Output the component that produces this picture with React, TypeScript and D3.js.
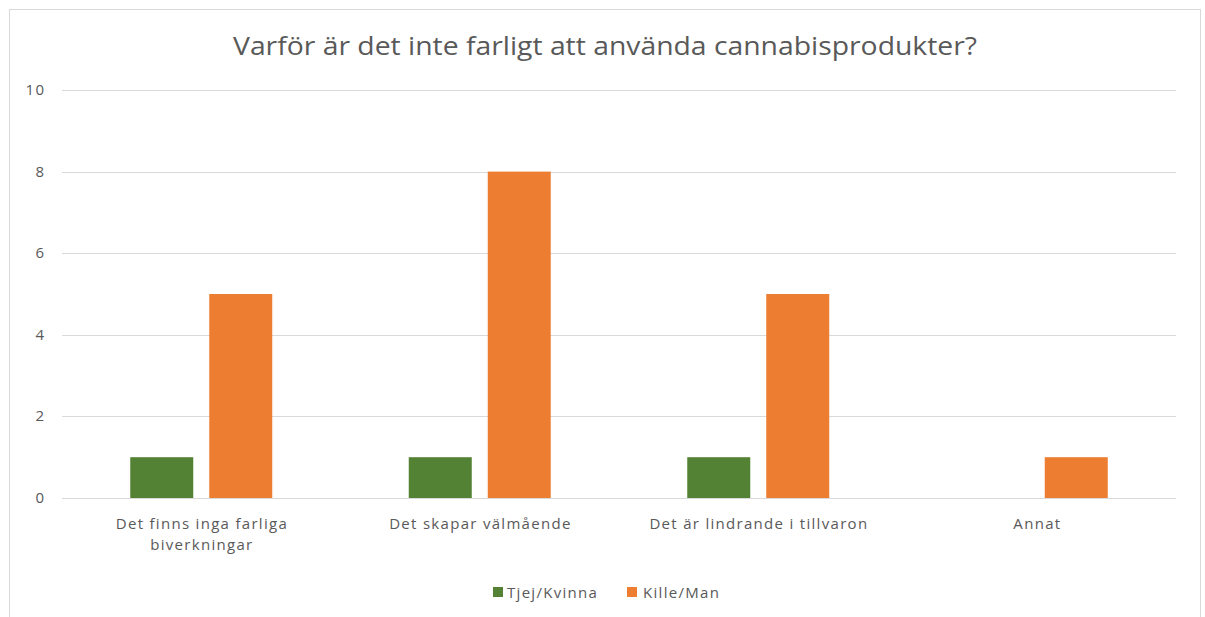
import React from "react";
import * as d3 from "d3";

const categories = [
  "Det finns inga farliga biverkningar",
  "Det skapar välmående",
  "Det är lindrande i tillvaron",
  "Annat",
];
const categoryLines = [
  ["Det finns inga farliga", "biverkningar"],
  ["Det skapar välmående"],
  ["Det är lindrande i tillvaron"],
  ["Annat"],
];
const seriesNames = ["Tjej/Kvinna", "Kille/Man"];
const tjejValues = [1, 1, 1, 0];
const killeValues = [5, 8, 5, 1];
const yTicks = [0, 2, 4, 6, 8, 10];
const title = "Varför är det inte farligt att använda cannabisprodukter?";

const W = 1205;
const H = 617;
const colors = ["#548235", "#ED7D31"];
const textColor = "#595959";
const font = "'Open Sans', sans-serif";
const ls = 1.3;

export default function App() {
  const left = 62;
  const right = 1176;
  const top = 90;
  const bottom = 498;
  const x0 = d3.scaleBand<string>().domain(categories).range([left, right]).paddingInner(0).paddingOuter(0);
  const groupW = 142;
  const x1 = d3.scaleBand<string>().domain(seriesNames).range([0, groupW]).paddingInner(0.2025).paddingOuter(0);
  const y = d3.scaleLinear().domain([0, 10]).range([bottom, top]);
  const series = [tjejValues, killeValues];

  return (
    <div style={{ position: "absolute", left: 0, top: 0 }}>
      <svg width={W} height={H} style={{ display: "block", fontFamily: font }}>
        <rect x={0} y={0} width={W} height={H} fill="#fff" />
        <rect x={9.5} y={9.5} width={1191} height={640} fill="#fff" stroke="#d9d9d9" strokeWidth={1} />
        <text x={605} y={55} textAnchor="middle" fontSize={25} fill={textColor} textLength={744} lengthAdjust="spacingAndGlyphs">
          {title}
        </text>
        {yTicks.map((t) => (
          <g key={t}>
            <line x1={left} x2={right} y1={Math.round(y(t)) + 0.5} y2={Math.round(y(t)) + 0.5} stroke="#d9d9d9" strokeWidth={1} />
            <text x={44 + ls} y={y(t) + 5} textAnchor="end" fontSize={15} letterSpacing={ls} fill={textColor}>
              {t}
            </text>
          </g>
        ))}
        {categories.map((c, i) => {
          const cx = (x0(c) as number) + x0.bandwidth() / 2;
          const gx = cx - groupW / 2;
          return (
            <g key={c}>
              {seriesNames.map((s, si) => {
                const v = series[si][i];
                if (v <= 0) return null;
                return (
                  <rect
                    key={s}
                    x={gx + (x1(s) as number)}
                    y={y(v)}
                    width={x1.bandwidth()}
                    height={y(0) - y(v)}
                    fill={colors[si]}
                  />
                );
              })}
              {categoryLines[i].map((ln, li) => (
                <text key={li} x={cx + ls / 2} y={529 + li * 21} textAnchor="middle" fontSize={15} letterSpacing={ls} fill={textColor}>
                  {ln}
                </text>
              ))}
            </g>
          );
        })}
        <g>
          <rect x={493} y={587} width={10} height={10} fill={colors[0]} />
          <text x={507} y={598} fontSize={15} letterSpacing={ls} fill={textColor}>{seriesNames[0]}</text>
          <rect x={627} y={587} width={10} height={10} fill={colors[1]} />
          <text x={643} y={598} fontSize={15} letterSpacing={ls} fill={textColor}>{seriesNames[1]}</text>
        </g>
      </svg>
    </div>
  );
}
